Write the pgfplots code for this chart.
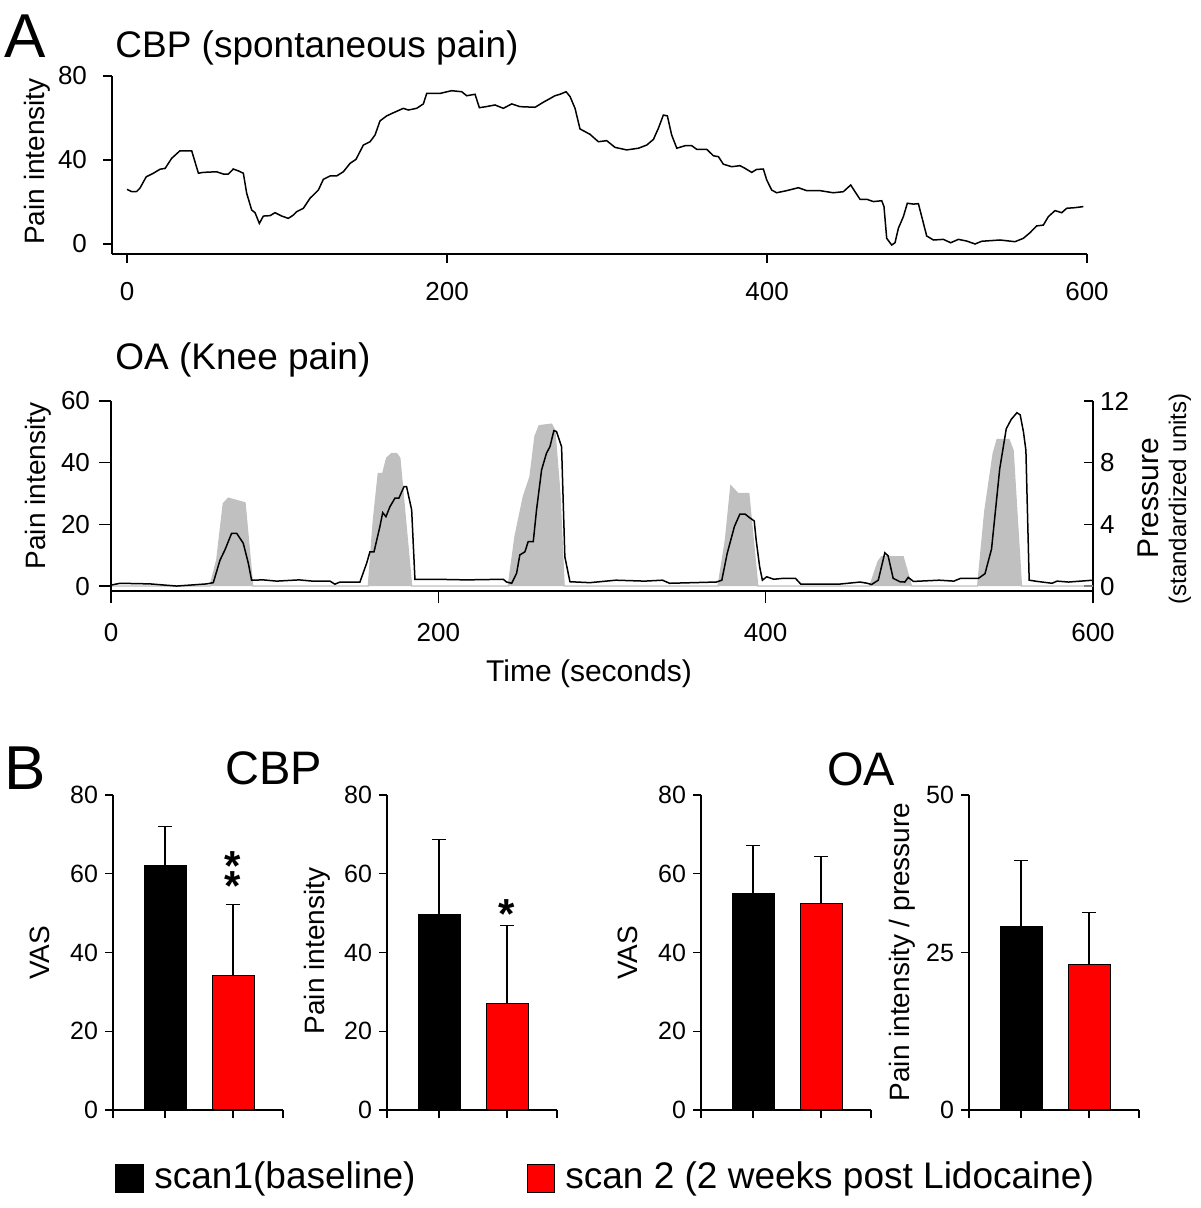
\documentclass[border=0pt]{standalone}
\usepackage{pgfplots}
\pgfplotsset{compat=1.18}
\usepackage{pgfplotstable}
\usepackage{fontspec}
\setmainfont{Liberation Sans}
\definecolor{pgray}{RGB}{192,192,192}
\definecolor{pred}{RGB}{255,0,0}

\pgfplotstableread{
x y
0 26.0
3 24.9
6 25.0
8 26.5
12 32
16.5 33.7
20.6 35.6
23.8 36
27.9 40.8
33.1 44.4
40.4 44.4
44.6 33.7
47.7 34.1
56 34.4
60.2 33.3
63.3 33.3
66.4 35.7
69.6 34.8
72.7 33.7
74.8 24.1
77.9 16.2
80 14.9
82.7 9.8
85.2 13.3
89.4 13.5
92.5 14.9
96.7 13.3
100.8 12.2
104 13.8
106 15.4
110.2 17
114.4 21.8
119.6 25.7
122.7 30.8
126.9 32.4
131 32.4
135.2 34.4
139.4 38.4
143.1 40.3
147.7 47.1
151.9 48.7
155 51.9
158.1 58.6
162.3 61
166.5 62.5
172.7 64.6
175.8 63.8
181 64.6
185.2 66.7
187.3 71.7
195.6 71.7
202.9 73
209.2 72.5
212.3 70.6
217.5 71.3
220.2 64.9
224.4 65.4
230 66.2
235.2 64.6
240.4 66.7
245.6 65.4
255 65.1
260.2 67.5
267.5 70.6
270.6 71.3
274.4 72.5
276.9 70.2
280 64.6
283.1 54.8
289.4 52.2
294.6 48.7
299.8 49.2
305 46
312.3 44.8
319.6 45.6
324.8 47.1
329 49.8
332.1 55.1
335.2 61.4
337.7 61
340.4 51.9
343.6 45.6
348.8 46.8
353 46.8
356 45.1
362.3 45.1
366.5 42
369.6 41.6
372.7 38
377.9 36.8
383.1 37.3
386.3 36
390.4 34.1
393.5 35.5
397.7 35.7
399.8 30.5
402.9 25.7
406 24.4
412.3 25.4
419.6 26.8
424.8 25.4
433.1 25.4
441.4 24.4
447.7 24.9
452.3 28.1
455 24.9
458.1 21.3
462.3 21.3
466.5 20.2
471.7 20.6
473.1 17.8
474.8 2.7
477.9 -0.5
480 0.6
482.1 7.5
485.2 13
487.7 19.4
491.5 19
494.6 19.2
496.7 13
499.8 3.8
504 1.9
510.2 2.2
514.8 0.6
519.6 2.2
524.8 1.4
530 0
534.2 1.3
545.6 1.9
555 1.1
560.2 2.7
564.4 5.4
568.5 8.6
572.7 9
575.8 13
580 15.9
584.2 14.9
587.3 17
592.5 17.3
597.7 17.8
}\cbp

\pgfplotstableread{
x y
0 0.3
5.5 0.9
23.8 0.7
40.1 0
58.5 0.7
62.5 1.1
66.6 8.4
69.6 11.7
73.7 17.1
76.8 17.1
80.8 13.9
83.9 7.4
85.9 1.9
93 2.0
101.2 1.6
115 2.0
123 1.6
133.8 1.6
136.8 0.6
139.9 1.3
152.1 1.3
156.2 7.4
158.2 11.1
160.7 11.1
164.3 19.3
166 23.8
168 22.5
170.4 25.7
173.5 28.5
175.9 28.5
179 32.2
180.6 32.2
183.7 24.7
185.7 2.2
197.9 2.2
217.3 2.0
239.7 2.2
241.7 1.3
244.8 0.9
247.8 4.1
249.8 10.1
252.9 11.1
254.9 14.4
258 14.4
260 24.7
263.1 37.7
266.1 43.1
268.2 45.2
270.6 50.4
272.2 50.1
275.3 45.2
277.3 9.5
280.4 1.4
292.6 1.1
308.5 1.9
326 1.6
336.9 1.9
341.3 0.9
369.8 1.3
373.2 1.9
376.5 10.6
380.9 19.3
384.2 23.3
387.5 23.3
390.1 22.2
393 21.1
394.2 14.9
396.3 6.3
398 1.9
400.6 3.0
405 2.2
410.5 2.5
418.2 2.5
421.5 0.6
444.5 0.6
457.7 1.3
462.1 0.9
464.7 0.5
468.8 1.9
472.8 10.8
474.8 9.8
477.9 2.5
482 1.4
485 1.3
487.1 2.8
490.3 1.5
506 1.9
515 1.6
519.1 2.5
530 2.5
534 4
538 12
543 38
547 51
550 54
553.5 56.2
555.5 55.5
557.5 50
559 44
561 1.9
566 1.5
575 0.9
578 1.6
585 1.3
600 1.9
}\oa

\pgfplotstableread{
x p
0 0
60.5 0
64.6 1.7
68.6 5.35
71.7 5.7
81.9 5.4
86.6 0
157.2 0
160.3 4.3
163.3 7.3
166 7.3
168.4 8.3
171.5 8.6
174.5 8.6
176.5 8.3
183.7 0
242.7 0
246.8 3.2
251.9 5.8
256 7.1
259 9.7
261.6 10.4
269.2 10.5
271.2 10.1
274.3 6.0
276.9 0
370.9 0
375.4 3.0
378.7 6.5
383.1 6.0
389.7 6.0
395.2 0
463.6 0
468.7 1.6
470.8 1.9
484 1.9
489.1 0
529.5 0
533.9 4.9
539 8.6
541.4 9.5
548.7 9.5
551.2 8.8
556.3 0
600 0
}\press

\pgfplotsset{
  base/.style={scale only axis, anchor=south west,
    /pgf/number format/assume math mode=true,
    tick label style={font=\fontsize{13}{15}\selectfont},
    axis line style={line width=0.7pt},
    every tick/.style={black, line width=0.7pt},
    major tick length=4.5pt, tick align=outside},
  barax/.style={base, width=85pt, height=157.5pt, axis lines*=left,
    xmin=0.235, xmax=2.735, ymin=0, xtick={0.235,1,2,2.735}, xticklabels={},
    tick label style={font=\fontsize{12.5}{14}\selectfont},
    major tick length=4pt},
  bk/.style={ybar, bar width=21pt, bar shift=0pt, fill=black, draw=black, line width=0.5pt,
    error bars/.cd, y dir=plus, y explicit,
    error bar style={line width=0.6pt, black},
    error mark options={rotate=90, mark size=3.6pt, line width=0.6pt, black}},
  rd/.style={ybar, bar width=21pt, bar shift=0pt, fill=pred, draw=black, line width=0.5pt,
    error bars/.cd, y dir=plus, y explicit,
    error bar style={line width=0.6pt, black},
    error mark options={rotate=90, mark size=3.6pt, line width=0.6pt, black}},
}
\tikzset{sigstar/.style={anchor=base, inner sep=0pt, font=\fontsize{21}{21}\selectfont\bfseries}}

\begin{document}
\begin{tikzpicture}
% ---------- Panel A top ----------
\begin{axis}[base, at={(56pt,477pt)}, width=487.5pt, height=89pt,
  xmin=-9.4, xmax=600, ymin=-4.76, ymax=80, axis lines*=left,
  xtick={0,200,400,600}, ytick={0,40,80},
  xticklabel style={yshift=-6pt}, yticklabel style={xshift=-4.5pt}]
\addplot[black, line width=0.75pt] table[x=x,y=y] {\cbp};
\end{axis}

% ---------- Panel A bottom: pressure (right axis) ----------
\begin{axis}[base, at={(55.5pt,308.5pt)}, width=491pt, height=95pt,
  xmin=0, xmax=600, ymin=-0.32, ymax=12,
  axis x line=none, axis y line*=right, ytick={0,4,8,12}, tick align=inside]
\addplot[fill=pgray, draw=pgray, line width=0.6pt] table[x=x,y=p] {\press};
\end{axis}
% ---------- Panel A bottom: pain (left axis) ----------
\begin{axis}[base, at={(55.5pt,308.5pt)}, width=491pt, height=95pt,
  xmin=0, xmax=600, ymin=-1.6, ymax=60, axis lines*=left,
  x axis line style={line width=1.1pt},
  xtick={0,200,400,600}, ytick={0,20,40,60},
  major tick length=6pt,
  xticklabel style={yshift=-6.5pt}, yticklabel style={xshift=-1pt}]
\addplot[black, line width=0.75pt] table[x=x,y=y] {\oa};
\end{axis}

% ---------- Panel B bars ----------
\begin{axis}[barax, at={(56.5pt,49pt)}, ymax=80, ytick={0,20,40,60,80}]
\addplot[bk] coordinates {(1,62.1) +- (0,9.9)};
\addplot[rd] coordinates {(2,34.1) +- (0,18.1)};
\node[sigstar] at (axis cs:2,58.2) {*};
\node[sigstar] at (axis cs:2,53.1) {*};
\end{axis}
\begin{axis}[barax, at={(193.5pt,49pt)}, ymax=80, ytick={0,20,40,60,80}]
\addplot[bk] coordinates {(1,49.6) +- (0,19.1)};
\addplot[rd] coordinates {(2,27.0) +- (0,19.8)};
\node[sigstar] at (axis cs:2,46.2) {*};
\end{axis}
\begin{axis}[barax, at={(350.5pt,49pt)}, ymax=80, ytick={0,20,40,60,80}]
\addplot[bk] coordinates {(1,55.0) +- (0,12.1)};
\addplot[rd] coordinates {(2,52.4) +- (0,12.0)};
\end{axis}
\begin{axis}[barax, at={(484.5pt,49pt)}, ymax=50, ytick={0,25,50}]
\addplot[bk] coordinates {(1,29.2) +- (0,10.4)};
\addplot[rd] coordinates {(2,23.1) +- (0,8.3)};
\end{axis}

% ---------- Texts ----------
\node[anchor=base west, inner sep=0pt, font=\fontsize{31}{31}\selectfont] at (2pt,575pt) {A};
\node[anchor=base west, inner sep=0pt, font=\fontsize{18.5}{20}\selectfont] at (57.5pt,575pt) {CBP (spontaneous pain)};
\node[rotate=90, inner sep=0pt, font=\fontsize{14}{16}\selectfont] at (18.75pt,523.25pt) {Pain intensity};
\node[anchor=base west, inner sep=0pt, font=\fontsize{18.5}{20}\selectfont] at (57.5pt,419pt) {OA (Knee pain)};
\node[rotate=90, inner sep=0pt, font=\fontsize{14}{16}\selectfont] at (19pt,361pt) {Pain intensity};
\node[rotate=90, inner sep=0pt, font=\fontsize{15}{17}\selectfont] at (574pt,355pt) {Pressure};
\node[rotate=90, inner sep=0pt, font=\fontsize{12}{14}\selectfont] at (590pt,354.5pt) {(standardized units)};
\node[inner sep=0pt, font=\fontsize{15}{17}\selectfont] at (294.5pt,267pt) {Time (seconds)};

\node[anchor=base west, inner sep=0pt, font=\fontsize{31}{31}\selectfont] at (2pt,209pt) {B};
\node[anchor=base, inner sep=0pt, font=\fontsize{23.5}{25}\selectfont] at (137pt,211.5pt) {CBP};
\node[anchor=base, inner sep=0pt, font=\fontsize{23.5}{25}\selectfont] at (430.5pt,211pt) {OA};
\node[rotate=90, inner sep=0pt, font=\fontsize{14}{16}\selectfont] at (20pt,127.5pt) {VAS};
\node[rotate=90, inner sep=0pt, font=\fontsize{14}{16}\selectfont] at (158.5pt,128.5pt) {Pain intensity};
\node[rotate=90, inner sep=0pt, font=\fontsize{14}{16}\selectfont] at (314pt,127.5pt) {VAS};
\node[rotate=90, inner sep=0pt, font=\fontsize{14}{16}\selectfont] at (451pt,128pt) {Pain intensity / pressure};

% legend
\filldraw[fill=black, draw=black, line width=0.5pt] (57.5pt,7.5pt) rectangle (71.5pt,21.5pt);
\node[anchor=west, inner sep=0pt, font=\fontsize{18.5}{20}\selectfont] at (77pt,14.5pt) {scan1(baseline)};
\filldraw[fill=pred, draw=black, line width=0.5pt] (263.5pt,7.5pt) rectangle (277pt,21.5pt);
\node[anchor=west, inner sep=0pt, font=\fontsize{18.5}{20}\selectfont] at (282.5pt,14.5pt) {scan 2 (2 weeks post Lidocaine)};

\pgfresetboundingbox
\path (0,0) rectangle (600pt,604pt);
\end{tikzpicture}
\end{document}
